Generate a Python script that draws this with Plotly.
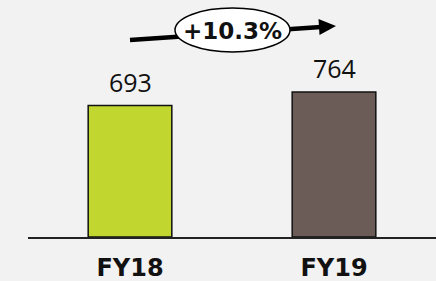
import plotly.graph_objects as go

categories = ["FY18", "FY19"]
values = [693, 764]
growth_label = "+10.3%"

bar_colors = ["#c1d72f", "#6b5c57"]

W, H = 436, 281
L, R, T, B = 28, 0, 0, 44
PW, PH = W - L - R, H - T - B


def px(x):
    return (x - L) / PW


def py(y):
    return (H - B - y) / PH


fig = go.Figure()
fig.add_trace(go.Bar(
    x=categories, y=values, width=0.41,
    marker=dict(color=bar_colors, line=dict(color="#111111", width=1.5)),
    hoverinfo="skip",
))

for c, v in zip(categories, values):
    fig.add_annotation(x=c, y=v, text=str(v), showarrow=False,
                       xanchor="center", yanchor="bottom", yshift=5,
                       font=dict(family="Open Sans", size=25, color="#111111"))

shapes = [
    dict(type="line", xref="paper", yref="paper",
         x0=px(130), y0=py(40), x1=px(321), y1=py(27),
         line=dict(color="#000000", width=4.5)),
    dict(type="path", xref="paper", yref="paper",
         path=f"M {px(336)} {py(26)} L {px(319.5)} {py(35)} L {px(318.5)} {py(19)} Z",
         fillcolor="#000000", line=dict(color="#000000", width=0)),
    dict(type="circle", xref="paper", yref="paper",
         x0=px(175), x1=px(290), y0=py(52), y1=py(8),
         fillcolor="#ffffff", line=dict(color="#000000", width=1.5)),
]
fig.update_layout(shapes=shapes)

fig.add_annotation(xref="paper", yref="paper", x=px(232), y=py(31),
                   xanchor="center", yanchor="middle",
                   text=f"<b>{growth_label}</b>", showarrow=False,
                   font=dict(family="DejaVu Sans", size=23, color="#111111"))

fig.update_layout(
    width=W, height=H,
    margin=dict(l=L, r=R, t=T, b=B, pad=0),
    paper_bgcolor="#f2f2f2", plot_bgcolor="#f2f2f2",
    showlegend=False,
    xaxis=dict(range=[-0.5, 1.5], showline=True, linecolor="#222222", linewidth=1.5,
               automargin=False,
               showgrid=False, zeroline=False, ticks="outside", ticklen=9,
               tickcolor="rgba(0,0,0,0)",
               tickfont=dict(family="DejaVu Sans", size=24, color="#111111"),
               tickprefix="<b>", ticksuffix="</b>"),
    yaxis=dict(range=[0, 1249], visible=False, automargin=False,
               showgrid=False, zeroline=False),
)

fig.write_html("out.html",
               config={"displayModeBar": False, "staticPlot": True},
               post_script="document.body.style.margin='0';document.body.style.padding='0';document.body.style.background='#f2f2f2';document.body.style.overflow='hidden';")
